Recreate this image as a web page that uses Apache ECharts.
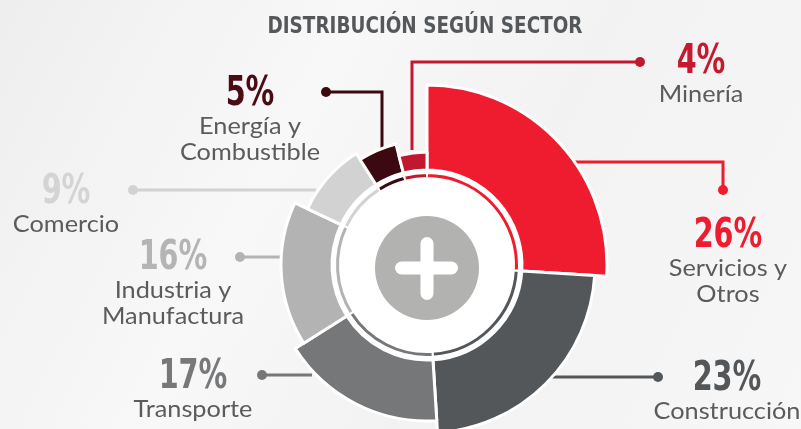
<!DOCTYPE html>
<html><head><meta charset="utf-8">
<script src="https://cdn.jsdelivr.net/npm/echarts@6/dist/echarts.min.js"></script>
<style>html,body{margin:0;padding:0;background:#f4f4f4}#c{width:801px;height:429px}</style>
</head><body><div id="c"></div>
<script>
// ---- data ----
const titleText = 'DISTRIBUCIÓN SEGÚN SECTOR';
const categories = ['Servicios y Otros', 'Construcción', 'Transporte', 'Industria y Manufactura', 'Comercio', 'Energía y Combustible', 'Minería'];
const shares = [26, 23, 17, 16, 9, 5, 4];

// ---- styles ----
const sliceColors = ['#ee1c2e', '#54575a', '#767779', '#b3b3b3', '#d2d2d2', '#3d0910', '#c1182f'];
const pctColors   = ['#ee1c2e', '#54575a', '#77787a', '#b4b4b4', '#d4d4d4', '#4a0c12', '#c41a30'];
const outerRadii  = [180, 168, 156, 146, 132, 125, 113];
const labelPos    = [[728, 236], [727, 379], [193, 377], [173, 258], [66, 192], [250, 94], [701, 62]];
const leaderPaths = [
  [[570, 162], [723, 162], [723, 190]],
  [[552, 377], [658, 377]],
  [[262, 375], [312, 375]],
  [[240, 257], [284, 257]],
  [[133, 190], [316, 190]],
  [[326, 92], [382, 92], [382, 148]],
  [[640, 62], [412, 62], [412, 150]]
];
const dotAtStart = [false, false, true, true, true, true, true];
const CENTER = [427, 265];

const chart = echarts.init(document.getElementById('c'), null, {renderer: 'canvas'});

const series = [];
// white inner disc
series.push({
  type: 'pie', silent: true, center: CENTER, radius: [0, 97], z: 1,
  label: {show: false}, labelLine: {show: false},
  data: [{value: 1, itemStyle: {color: '#ffffff'}}]
});
// thin inner ring
series.push({
  type: 'pie', silent: true, center: CENTER, radius: [87, 92], startAngle: 90, z: 2,
  label: {show: false}, labelLine: {show: false},
  data: shares.map((v, i) => ({name: categories[i], value: v,
    itemStyle: {color: sliceColors[i], borderColor: '#fff', borderWidth: 2}}))
});
// outer slices, one series per slice to allow individual radius
shares.forEach((_, k) => {
  series.push({
    type: 'pie', silent: true, center: CENTER, radius: [95, outerRadii[k]], startAngle: 90, z: 3,
    label: {show: false}, labelLine: {show: false},
    data: shares.map((v, i) => ({name: categories[i], value: v,
      itemStyle: i === k ? {color: sliceColors[i], borderColor: '#fff', borderWidth: 3}
                         : {color: 'rgba(0,0,0,0)', borderWidth: 0}}))
  });
});
// plus circle
series.push({
  type: 'pie', silent: true, center: [427, 268], radius: [0, 52], z: 4,
  label: {show: false}, labelLine: {show: false},
  data: [{value: 1, itemStyle: {color: '#b2b2b1'}}]
});

const graphic = [];
// plus sign
graphic.push({type: 'rect', z: 100, shape: {x: 395, y: 261.5, width: 63, height: 13, r: 6.5}, style: {fill: '#fff'}});
graphic.push({type: 'rect', z: 100, shape: {x: 420.5, y: 237, width: 13, height: 63, r: 6.5}, style: {fill: '#fff'}});
// title
graphic.push({type: 'text', x: 425, y: 27, scaleX: 0.8, z: 100,
  style: {text: titleText, font: 'bold 23px "DejaVu Sans"', fill: '#55585b', align: 'center', verticalAlign: 'middle'}});

const wrapName = s => s.replace(' y ', ' y\n');
shares.forEach((v, i) => {
  const [x, y] = labelPos[i];
  const pts = leaderPaths[i];
  graphic.push({type: 'polyline', z: 0, shape: {points: pts}, style: {stroke: sliceColors[i], lineWidth: 3, fill: null}});
  const d = dotAtStart[i] ? pts[0] : pts[pts.length - 1];
  graphic.push({type: 'circle', z: 0, shape: {cx: d[0], cy: d[1], r: 5}, style: {fill: sliceColors[i]}});
  graphic.push({type: 'text', x: x, y: y, scaleX: 0.7, z: 100,
    style: {text: v + '%', font: 'bold 41px "DejaVu Sans"', fill: pctColors[i], align: 'center', verticalAlign: 'middle'}});
  graphic.push({type: 'text', x: x, y: y + 20, scaleX: 1.1, z: 100,
    style: {text: wrapName(categories[i]), font: '23px Lato', lineHeight: 26, fill: '#5a5b5d', align: 'center', verticalAlign: 'top'}});
});

chart.setOption({
  backgroundColor: {type: 'linear', x: 0, y: 0, x2: 1, y2: 1, colorStops: [
    {offset: 0, color: '#eeeeee'}, {offset: 0.35, color: '#f8f8f8'}, {offset: 0.6, color: '#f2f2f2'}, {offset: 1, color: '#f7f7f7'}]},
  animation: false,
  series: series,
  graphic: graphic
});
</script></body></html>
